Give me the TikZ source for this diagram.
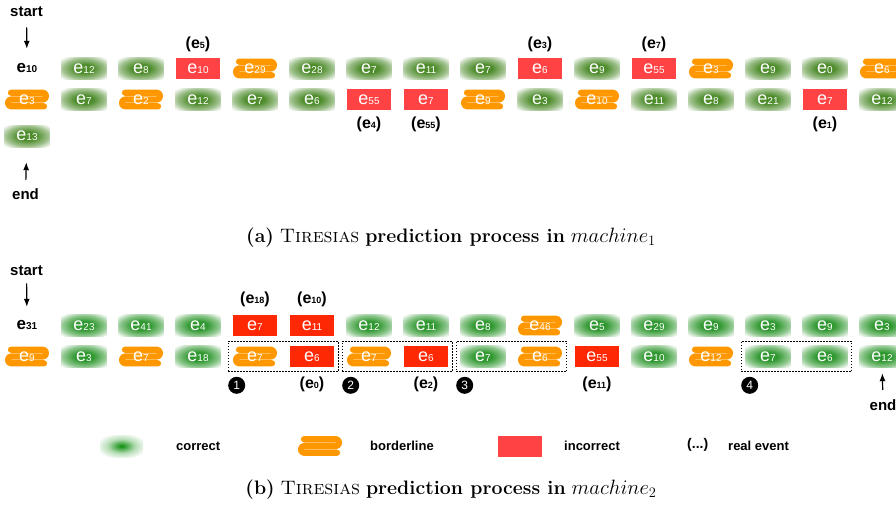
\documentclass[tikz,border=0pt]{standalone}
\usepackage{fontspec}
\newfontfamily\hv{Liberation Sans}
\usepackage{xcolor}
\usepackage{tikz}
\usetikzlibrary{arrows.meta, positioning, fit, backgrounds}

\definecolor{colOkA}{RGB}{78,140,44}
\definecolor{colOkB}{RGB}{48,152,48}
\definecolor{colOkL}{RGB}{10,140,10}
\colorlet{colOkAfade}{colOkA!55!white}
\colorlet{colOkBfade}{colOkB!55!white}
\colorlet{colOkLfade}{colOkL!30!white}
\definecolor{colBadA}{RGB}{255,66,68}
\definecolor{colBadB}{RGB}{255,40,4}
\definecolor{colBl}{RGB}{255,152,0}

\pgfdeclareradialshading{okshadeA}{\pgfpoint{0bp}{0bp}}{color(0bp)=(colOkA); color(10bp)=(colOkA); color(23bp)=(colOkAfade); color(34bp)=(white); color(50bp)=(white)}
\pgfdeclareradialshading{okshadeB}{\pgfpoint{0bp}{0bp}}{color(0bp)=(colOkB); color(10bp)=(colOkB); color(23bp)=(colOkBfade); color(34bp)=(white); color(50bp)=(white)}
\pgfdeclareradialshading{okshadeL}{\pgfpoint{0bp}{0bp}}{color(0bp)=(colOkL); color(16bp)=(colOkLfade); color(30bp)=(white); color(50bp)=(white)}

\newcommand\evt[1]{e{\fontsize{10}{10}\selectfont#1}}
\newcommand\evl[1]{(e{\fontsize{9}{9}\selectfont#1})}

\begin{document}
\begin{tikzpicture}[x=1pt, y=1pt]
    \tikzstyle{ev}   = [rectangle, minimum width=45pt, minimum height=22pt, inner sep=0pt,
                        text=white, font=\hv\fontsize{18}{18}\selectfont]
    \tikzstyle{txt}  = [ev, text=black, font=\hv\bfseries\fontsize{17}{17}\selectfont]
    \tikzstyle{okA}  = [ev, shading=okshadeA]
    \tikzstyle{okB}  = [ev, shading=okshadeB]
    \tikzstyle{badA} = [ev, minimum width=44pt, minimum height=21pt, fill=colBadA]
    \tikzstyle{badB} = [ev, minimum width=44pt, minimum height=21pt, fill=colBadB]
    \tikzstyle{bl}   = [ev]
    \tikzstyle{lab}  = [inner sep=0pt, font=\hv\bfseries\fontsize{16}{16}\selectfont]
    \tikzstyle{word} = [inner sep=0pt, font=\hv\bfseries\fontsize{15}{15}\selectfont]
    \tikzstyle{key}  = [inner sep=0pt, anchor=west, font=\hv\bfseries\fontsize{13}{13}\selectfont]
    \tikzstyle{grp}  = [draw, line width=1.2pt, dash pattern=on 1.2pt off 1.8pt, inner sep=4pt]
    \tikzstyle{num}  = [circle, fill=black, minimum size=17pt, inner sep=0pt,
                        text=white, font=\hv\fontsize{12}{12}\selectfont]
    \tikzstyle{arr}  = [-{Latex[length=8pt, width=6pt]}, line width=1.2pt]
    \tikzstyle{caption} = [inner sep=0pt, font=\fontsize{19.5}{23}\selectfont]
    \tikzset{scribble/.pic={
        \draw[colBl, line width=6.2pt, line cap=round, line join=round]
            (-16,6.8) -- (16,6.8) .. controls (20,6.8) and (20,0) .. (16,0)
            -- (-16,0) .. controls (-20,0) and (-20,-6.8) .. (-16,-6.8) -- (17,-6.8);}}

    \useasboundingbox (0,0) rectangle (896,-504);

    % (a) machine 1
    \node[word, anchor=base] (startA) at (26.5,-16) {start};
    \foreach \s/\t [count=\i from 0] in {txt/10, okA/12, okA/8, badA/10, bl/29, okA/28, okA/7, okA/11,
                                         okA/7, badA/6, okA/9, badA/55, bl/3, okA/9, okA/0, bl/6}
        \node[\s] (at\i) at ({27+57*\i},-68.5) {\evt{\t}};
    \foreach \s/\t [count=\i from 0] in {bl/3, okA/7, bl/2, okA/12, okA/7, okA/6, badA/55, badA/7,
                                         bl/9, okA/3, bl/10, okA/11, okA/8, okA/21, badA/7, okA/12}
        \node[\s] (ab\i) at ({27+57*\i},-99.5) {\evt{\t}};
    \node[okA] (ax0) at (27,-136) {\evt{13}};
    \node[word, anchor=base] (endA) at (25.5,-199) {end};

    \foreach \c/\t in {3/5, 9/3, 11/7}
        \node[lab, above=6pt of at\c] (aup\c) {\evl{\t}};
    \foreach \c/\t in {6/4, 7/55, 14/1}
        \node[lab, below=7pt of ab\c] (adn\c) {\evl{\t}};

    \draw[arr, shorten <=11pt, shorten >=8.5pt] (startA) -- (at0);
    \draw[arr, shorten <=8pt, shorten >=15pt] (endA) -- (ax0);

    \node[caption] (capA) at (451,-238)
        {\textbf{(a)} \textsc{Tiresias} \textbf{prediction process in} $machine_1$};

    % (b) machine 2
    \node[word, anchor=base] (startB) at (26.5,-275) {start};
    \foreach \s/\t [count=\i from 0] in {txt/31, okB/23, okB/41, okB/4, badB/7, badB/11, okB/12, okB/11,
                                         okB/8, bl/46, okB/5, okB/29, okB/9, okB/3, okB/9, okB/3}
        \node[\s] (bt\i) at ({27+57*\i},-325.5) {\evt{\t}};
    \foreach \s/\t [count=\i from 0] in {bl/9, okB/3, bl/7, okB/18, bl/7, badB/6, bl/7, badB/6,
                                         okB/7, bl/6, badB/55, okB/10, bl/12, okB/7, okB/6, okB/12}
        \node[\s] (bb\i) at ({27+57*\i},-356.5) {\evt{\t}};
    \node[word, anchor=base] (endB) at (883,-410) {end};

    \foreach \c/\t in {4/18, 5/10}
        \node[lab, above=8pt of bt\c] (bup\c) {\evl{\t}};
    \foreach \c/\t in {5/0, 7/2, 10/11}
        \node[lab, below=9pt of bb\c] (bdn\c) {\evl{\t}};

    \node[grp, fit=(bb4)(bb5)]   (grp1) {};
    \node[grp, fit=(bb6)(bb7)]   (grp2) {};
    \node[grp, fit=(bb8)(bb9)]   (grp3) {};
    \node[grp, fit=(bb13)(bb14)] (grp4) {};
    \foreach \k in {1,...,4}
        \node[num] (num\k) at ([shift={(9,-13)}]grp\k.south west) {\k};

    \draw[arr, shorten <=8pt, shorten >=7.5pt] (startB) -- (bt0);
    \draw[arr, shorten <=9pt, shorten >=5.5pt] (endB) -- (bb15);

    % legend
    \node[ev, minimum width=43pt, shading=okshadeL] (lgOk) at (121.5,-446) {};
    \node[key] (lgOkTxt) at (176,-446) {correct};
    \node[bl] (lgBl) at (320,-446) {};
    \node[key] (lgBlTxt) at (370,-446) {borderline};
    \node[badA] (lgBad) at (520,-446) {};
    \node[key] (lgBadTxt) at (564,-446) {incorrect};
    \node[key, font=\hv\bfseries\fontsize{14}{14}\selectfont] (lgReal) at (687,-445) {(...)};
    \node[key] (lgRealTxt) at (728,-446) {real event};

    \node[caption] (capB) at (451,-490)
        {\textbf{(b)} \textsc{Tiresias} \textbf{prediction process in} $machine_2$};

    % borderline scribbles behind their labels
    \begin{scope}[on background layer]
        \foreach \n in {at4, at12, at15, ab0, ab2, ab8, ab10, bt9,
                        bb0, bb2, bb4, bb6, bb9, bb12, lgBl}
            \pic at (\n) {scribble};
    \end{scope}
\end{tikzpicture}
\end{document}
